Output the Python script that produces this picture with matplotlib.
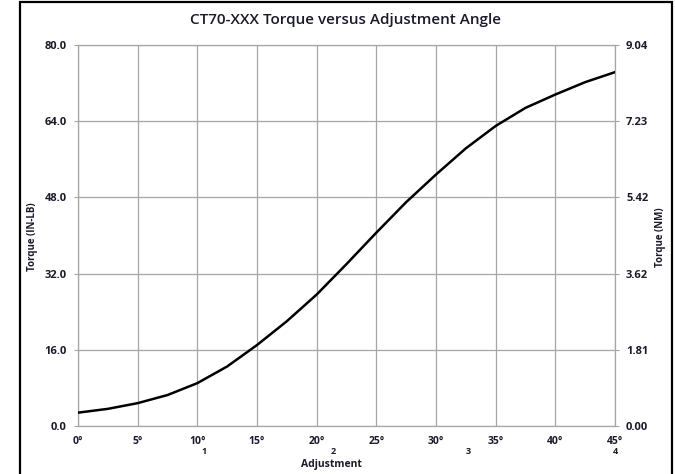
import matplotlib
matplotlib.use("Agg")
import matplotlib.pyplot as plt
from matplotlib.patches import Rectangle

angles = [0, 2.5, 5, 7.5, 10, 12.5, 15, 17.5, 20, 22.5, 25, 27.5, 30, 32.5, 35, 37.5, 40, 42.5, 45]
torque_inlb = [2.8, 3.6, 4.8, 6.5, 9.0, 12.5, 17.0, 22.0, 27.6, 34.0, 40.6, 47.0, 52.8, 58.3, 63.0, 66.8, 69.6, 72.2, 74.3]

x_ticks = [0, 5, 10, 15, 20, 25, 30, 35, 40, 45]
x_ticklabels = ["0°", "5°", "10°", "15°", "20°", "25°", "30°", "35°", "40°", "45°"]
y_ticks = [0, 16, 32, 48, 64, 80]
y_ticklabels = ["0.0", "16.0", "32.0", "48.0", "64.0", "80.0"]
y2_ticklabels = ["0.00", "1.81", "3.62", "5.42", "7.23", "9.04"]
turn_pos = [10.6, 21.4, 32.7, 45.0]
turn_labels = ["1", "2", "3", "4"]

plt.rcParams['font.family'] = ['Open Sans', 'DejaVu Sans']
txt = "#1a1a2a"
grid_c = "#a6a6a6"

fig = plt.figure(figsize=(6.75, 4.74), dpi=100)
fig.patch.set_facecolor("white")
fig.patches.append(Rectangle((20/675, -0.02), (672-20)/675, 1 - 2/474 + 0.02,
                             transform=fig.transFigure, fill=False,
                             edgecolor="black", linewidth=1.6, zorder=10))

ax = fig.add_axes([78/675, 1 - 426/474, (615-78)/675, (426-45)/474])
ax.plot(angles, torque_inlb, color="black", linewidth=1.8, zorder=3)
ax.set_xlim(0, 45)
ax.set_ylim(0, 80)
ax.set_xticks(x_ticks)
ax.set_xticklabels(x_ticklabels)
ax.set_yticks(y_ticks)
ax.set_yticklabels(y_ticklabels)
ax.grid(True, color=grid_c, linewidth=0.9)
for s in ax.spines.values():
    s.set_color(grid_c)
    s.set_linewidth(0.9)
ax.tick_params(axis="y", length=3, color=grid_c, pad=5, labelsize=8, labelcolor=txt)
ax.tick_params(axis="x", length=0, pad=7, labelsize=7.5, labelcolor=txt)
for lab in ax.get_xticklabels() + ax.get_yticklabels():
    lab.set_fontweight("bold")

ax2 = ax.twinx()
ax2.set_ylim(0, 80)
ax2.set_yticks(y_ticks)
ax2.set_yticklabels(y2_ticklabels)
ax2.tick_params(axis="y", length=3, color=grid_c, pad=5, labelsize=8, labelcolor=txt)
for lab in ax2.get_yticklabels():
    lab.set_fontweight("bold")
for s in ax2.spines.values():
    s.set_visible(False)

for p, t in zip(turn_pos, turn_labels):
    ax.text(p, -0.068, t, transform=ax.get_xaxis_transform(), ha="center", va="center",
            fontsize=6.5, fontweight="bold", color=txt)

fig.text(331/675, 1 - 464/474, "Adjustment", ha="center", va="center",
         fontsize=7.5, fontweight="bold", color=txt)
fig.text(33/675, 1 - 237/474, "Torque (IN-LB)", ha="center", va="center", rotation=90,
         fontsize=7, fontweight="bold", color=txt)
fig.text(660/675, 1 - 237/474, "Torque (NM)", ha="center", va="center", rotation=90,
         fontsize=7, fontweight="bold", color=txt)
fig.text(346/675, 1 - 20/474, "CT70-XXX Torque versus Adjustment Angle", ha="center",
         va="center", fontsize=11, fontweight="semibold", color=txt)

fig.savefig("out.png", dpi=100)
